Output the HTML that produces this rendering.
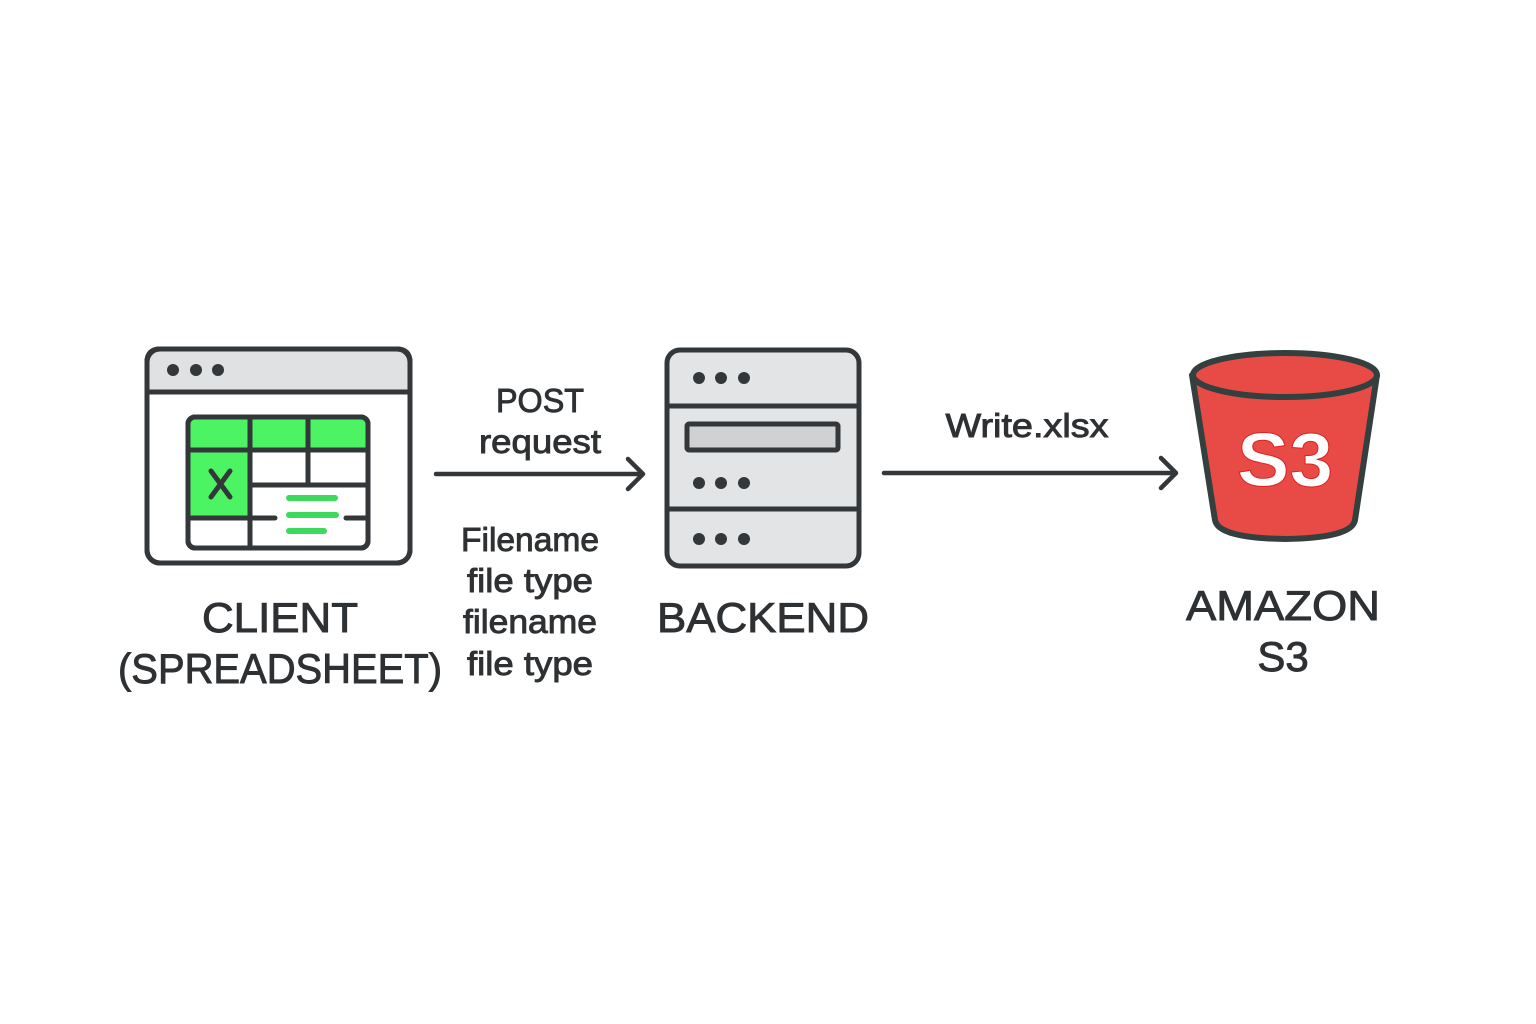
<!DOCTYPE html>
<html><head><meta charset="utf-8"><style>
html,body{margin:0;padding:0;background:#fff;}
svg{display:block;}
text{font-family:"Liberation Sans",sans-serif;fill:#2e3133;text-anchor:middle;stroke:#2e3133;stroke-width:0.9;}
</style></head><body>
<svg width="1536" height="1024" viewBox="0 0 1536 1024" xmlns="http://www.w3.org/2000/svg">
<rect width="1536" height="1024" fill="#fff"/>
<g stroke="#33373a" stroke-width="5" stroke-linecap="round" stroke-linejoin="round">
  <rect x="147" y="349" width="263" height="214" rx="13" fill="#fff"/>
  <path d="M160 349 H397 Q410 349 410 362 V392 H147 V362 Q147 349 160 349Z" fill="#dfe1e2"/>
  <rect x="147" y="349" width="263" height="214" rx="13" fill="none"/>
  <rect x="188" y="417" width="180" height="131" rx="7" fill="#fff"/>
  <path d="M195 417 H361 Q368 417 368 424 V450 H188 V424 Q188 417 195 417Z" fill="#4cf463" stroke="none"/>
  <rect x="188" y="450" width="62" height="68" fill="#4cf463" stroke="none"/>
  <rect x="188" y="417" width="180" height="131" rx="7" fill="none"/>
  <line x1="188" y1="450" x2="368" y2="450"/>
  <line x1="250" y1="417" x2="250" y2="548"/>
  <line x1="308" y1="417" x2="308" y2="485"/>
  <line x1="250" y1="485" x2="368" y2="485"/>
  <line x1="188" y1="518" x2="275" y2="518"/>
  <line x1="346" y1="518" x2="368" y2="518"/>
  <path d="M211 471 L230 497 M230 471 L211 497" stroke-width="5"/>
</g>
<g fill="#33373a">
  <circle cx="173" cy="370" r="6"/><circle cx="196" cy="370" r="6"/><circle cx="218" cy="370" r="6"/>
</g>
<g stroke="#3ed95a" stroke-width="6" stroke-linecap="round">
  <line x1="289" y1="498" x2="335" y2="498"/>
  <line x1="289" y1="515" x2="336" y2="515"/>
  <line x1="289" y1="531" x2="324" y2="531"/>
</g>
<g stroke="#33373a" stroke-width="5">
  <rect x="667" y="350" width="192" height="216" rx="13" fill="#e2e4e5"/>
  <line x1="667" y1="406" x2="859" y2="406"/>
  <line x1="667" y1="509" x2="859" y2="509"/>
  <rect x="687" y="424" width="151" height="26" rx="2" fill="#cfd1d2"/>
</g>
<g fill="#33373a">
  <circle cx="699" cy="378" r="6"/><circle cx="721" cy="378" r="6"/><circle cx="744" cy="378" r="6"/>
  <circle cx="699" cy="483" r="6"/><circle cx="721" cy="483" r="6"/><circle cx="744" cy="483" r="6"/>
  <circle cx="699" cy="539" r="6"/><circle cx="721" cy="539" r="6"/><circle cx="744" cy="539" r="6"/>
</g>
<g stroke="#33403f" stroke-width="6" stroke-linejoin="round">
  <path d="M1192 375 L1215 520 Q1218 538 1285 539 Q1352 538 1355 520 L1377 375 Z" fill="#e84b46"/>
  <ellipse cx="1285" cy="375" rx="92" ry="22" fill="#e84b46"/>
</g>
<text x="1285" y="486" textLength="96" lengthAdjust="spacingAndGlyphs" style="font-size:76px;font-weight:bold;fill:#fff;stroke:#e02020;stroke-width:1">S3</text>
<g stroke="#33373a" stroke-width="4.5" fill="none" stroke-linecap="round" stroke-linejoin="round">
  <line x1="436" y1="474" x2="642" y2="474"/>
  <path d="M628 459 L643 474 L628 489"/>
  <line x1="884" y1="473" x2="1175" y2="473"/>
  <path d="M1161 458 L1176 473 L1161 488"/>
</g>
<g style="font-size:33px" lengthAdjust="spacingAndGlyphs">
  <text x="540" y="412" textLength="88" lengthAdjust="spacingAndGlyphs">POST</text>
  <text x="540" y="453" textLength="122" lengthAdjust="spacingAndGlyphs">request</text>
  <text x="530" y="551" textLength="138" lengthAdjust="spacingAndGlyphs">Filename</text>
  <text x="530" y="592" textLength="126" lengthAdjust="spacingAndGlyphs">file type</text>
  <text x="530" y="633" textLength="134" lengthAdjust="spacingAndGlyphs">filename</text>
  <text x="530" y="675" textLength="126" lengthAdjust="spacingAndGlyphs">file type</text>
  <text x="1027" y="437" textLength="163" lengthAdjust="spacingAndGlyphs">Write.xlsx</text>
</g>
<g style="font-size:42px">
  <text x="280" y="632" textLength="156" lengthAdjust="spacingAndGlyphs">CLIENT</text>
  <text x="280" y="683" textLength="324" lengthAdjust="spacingAndGlyphs">(SPREADSHEET)</text>
  <text x="763" y="632" textLength="212" lengthAdjust="spacingAndGlyphs">BACKEND</text>
  <text x="1283" y="620" textLength="194" lengthAdjust="spacingAndGlyphs">AMAZON</text>
  <text x="1283" y="671">S3</text>
</g>
</svg>
</body></html>
